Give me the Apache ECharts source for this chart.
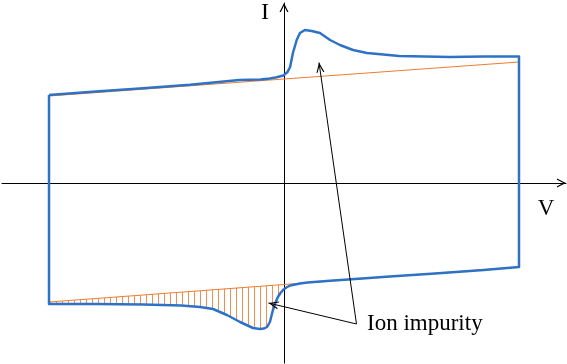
<!DOCTYPE html>
<html>
<head>
<meta charset="utf-8">
<script src="https://cdn.jsdelivr.net/npm/echarts@6/dist/echarts.min.js"></script>
<style>html,body{margin:0;padding:0;background:#fff;}#c{width:567px;height:364px;}</style>
</head>
<body>
<div id="c"></div>
<script>
// ---- data (V, I in arbitrary units) ----
var upperV = [-1.0, -0.8, -0.6, -0.4, -0.19, -0.1, -0.06, -0.031, -0.003, 0.015, 0.026, 0.038, 0.054, 0.068, 0.089, 0.118, 0.153, 0.196, 0.238, 0.294, 0.353, 0.40, 0.49, 0.6, 0.706, 0.85, 1.0];
var upperI = [0.88, 0.915, 0.948, 0.982, 1.03, 1.035, 1.045, 1.057, 1.075, 1.11, 1.16, 1.30, 1.43, 1.50, 1.53, 1.52, 1.50, 1.43, 1.38, 1.33, 1.30, 1.29, 1.27, 1.265, 1.26, 1.265, 1.265];
var lowerV = [1.0, 0.85, 0.643, 0.45, 0.332, 0.196, 0.1, 0.068, 0.026, 0.01, -0.004, -0.015, -0.026, -0.037, -0.047, -0.06, -0.072, -0.085, -0.102, -0.132, -0.187, -0.243, -0.302, -0.357, -0.438, -0.6, -0.8, -1.0];
var lowerI = [-0.84, -0.87, -0.905, -0.935, -0.955, -0.978, -0.995, -1.005, -1.025, -1.045, -1.07, -1.10, -1.14, -1.20, -1.27, -1.39, -1.44, -1.455, -1.46, -1.45, -1.39, -1.32, -1.26, -1.24, -1.225, -1.215, -1.21, -1.21];
// linear baselines [V, I] endpoints
var baseUpperV = [-1.0, 1.0];
var baseUpperI = [0.87, 1.21];
var baseLowerV = [-1.0, 1.0];
var baseLowerI = [-1.19, -0.84];
// annotation: text anchor and arrow tips
var annoFrom = [0.3085, -1.41];
var annoTips = [[0.149, 1.205], [-0.066, -1.20]];
var annoText = 'Ion impurity';
var axisNames = ['V', 'I'];

var BLUE = '#2e72c6', ORANGE = '#ED7D31';

// closed loop
var loop = [];
for (var i = 0; i < upperV.length; i++) loop.push([upperV[i], upperI[i]]);
for (var j = 0; j < lowerV.length; j++) loop.push([lowerV[j], lowerI[j]]);
loop.push([upperV[0], upperI[0]]);

function baseLowerAt(v) {
  var t = (v - baseLowerV[0]) / (baseLowerV[1] - baseLowerV[0]);
  return baseLowerI[0] + t * (baseLowerI[1] - baseLowerI[0]);
}

// hatch pattern
var pc = document.createElement('canvas');
pc.width = 6; pc.height = 6;
var pctx = pc.getContext('2d');
pctx.fillStyle = 'rgba(237,125,49,0.85)';
pctx.fillRect(2, 0, 1, 6);

var chevron = 'path://M0,10 L5,0 L10,10 L8.5,10 L5,3 L1.5,10 Z';

var chart = echarts.init(document.getElementById('c'));
chart.setOption({
  animation: false,
  grid: {left: 2, right: 1, top: 3, bottom: 1},
  xAxis: {
    type: 'value', min: -1.2, max: 1.2,
    axisLine: {onZero: true, lineStyle: {color: '#000', width: 1}, symbol: ['none', chevron], symbolSize: [10, 9], symbolOffset: [0, -4.5]},
    axisTick: {show: false}, axisLabel: {show: false}, splitLine: {show: false}
  },
  yAxis: {
    type: 'value', min: -1.8, max: 1.8,
    axisLine: {onZero: true, lineStyle: {color: '#000', width: 1}, symbol: ['none', chevron], symbolSize: [10, 9], symbolOffset: [0, -4.5]},
    axisTick: {show: false}, axisLabel: {show: false}, splitLine: {show: false}
  },
  series: [
    {
      type: 'custom',
      z: 1,
      silent: true,
      data: [[0, 0]],
      renderItem: function (params, api) {
        var pts = [];
        for (var k = 0; k < lowerV.length; k++) {
          if (lowerV[k] <= 0) pts.push(api.coord([lowerV[k], lowerI[k]]));
        }
        pts.push(api.coord([baseLowerV[0], baseLowerAt(baseLowerV[0])]));
        pts.push(api.coord([-0.004, baseLowerAt(-0.004)]));
        return {
          type: 'polygon',
          shape: {points: pts},
          style: {fill: {image: pc, repeat: 'repeat'}, stroke: null}
        };
      }
    },
    {
      type: 'line', z: 2, silent: true, showSymbol: false,
      data: [[baseUpperV[0], baseUpperI[0]], [baseUpperV[1], baseUpperI[1]]],
      lineStyle: {color: ORANGE, width: 1.2}
    },
    {
      type: 'line', z: 2, silent: true, showSymbol: false,
      data: [[baseLowerV[0], baseLowerI[0]], [baseLowerV[1], baseLowerI[1]]],
      lineStyle: {color: ORANGE, width: 1.2}
    },
    {
      type: 'line', z: 3, silent: true, showSymbol: false,
      data: loop,
      lineStyle: {color: BLUE, width: 2.5, join: 'round'},
      markLine: {
        silent: true,
        symbol: ['none', chevron],
        symbolSize: [8, 10],
        symbolOffset: [[0, 0], [0, 5]],
        label: {show: false},
        lineStyle: {color: '#000', width: 1, type: 'solid'},
        data: annoTips.map(function (t) { return [{coord: annoFrom}, {coord: t}]; })
      }
    }
  ],
  graphic: [
    {type: 'text', x: 265, y: 13, style: {text: axisNames[1], font: '24px "Liberation Serif"', fill: '#000', align: 'center', verticalAlign: 'middle'}},
    {type: 'text', x: 546, y: 209, style: {text: axisNames[0], font: '23px "Liberation Serif"', fill: '#000', align: 'center', verticalAlign: 'middle'}},
    {type: 'text', x: 367, y: 324, style: {text: annoText, font: '23px "Liberation Serif"', fill: '#000', align: 'left', verticalAlign: 'middle'}}
  ]
});
</script>
</body>
</html>
